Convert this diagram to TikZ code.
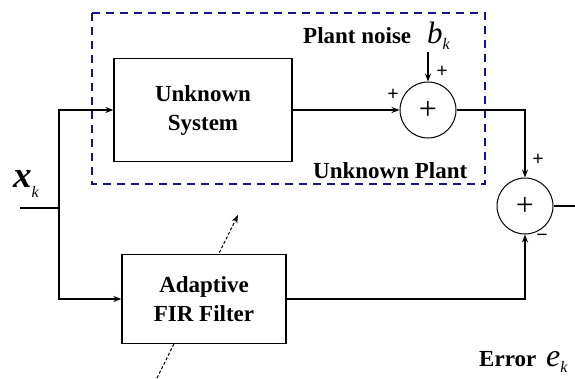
\documentclass[tikz,border=0pt]{standalone}
\usepackage{fontspec}
\setmainfont{Liberation Serif}
\usetikzlibrary{arrows.meta,positioning,backgrounds}

\definecolor{plantblue}{RGB}{20,20,140}

% italic signal name with a lowered k
\newcommand{\sigvar}[3]{{\itshape\fontsize{#2}{#2}\selectfont #1}{\mdseries\itshape\fontsize{16}{16}\selectfont\raisebox{-#3pt}{k}}}

\tikzset{
  blockbox/.style={draw, fill=white, line width=1.3pt, align=center,
    font=\bfseries\fontsize{23}{29}\selectfont},
  sumnode/.style={draw, circle, line width=1pt, minimum size=56pt, inner sep=0pt,
    font=\fontsize{32}{32}\selectfont},
  sig/.style={-{Stealth[length=8pt,width=6pt]}, line width=1.2pt},
  lbl/.style={inner sep=0pt, font=\bfseries\fontsize{23}{23}\selectfont},
  signlbl/.style={inner sep=0pt, font=\bfseries\fontsize{20}{20}\selectfont},
  plantframe/.style={draw=plantblue, line width=1.5pt, dash pattern=on 8pt off 6pt},
  adjustline/.style={-{Stealth[length=8pt,width=6pt]}, line width=1pt, densely dashed}
}

\begin{document}
\begin{tikzpicture}[x=1pt,y=-1pt]
  \useasboundingbox (0,0) rectangle (575,378);

  % unknown plant frame
  \draw[plantframe] (92,13) rectangle (485,184);

  \node[blockbox, minimum width=178pt, minimum height=103pt] (sys) at (203,110) {Unknown\\System};
  \node[blockbox, minimum width=164pt, minimum height=89pt] (fir) at (204,299) {Adaptive\\FIR Filter};
  \node[sumnode] (sum1) at (428,110) {+};
  \node[sumnode] (sum2) at (525,206) {+};

  \coordinate (xin) at (20,208);
  \coordinate (split) at (59,208);
  \coordinate (noise) at (428,52);
  \coordinate (out) at (575,206);
  \coordinate (adaptfrom) at (157,378);
  \coordinate (adaptto) at (238,215);

  % signal paths
  \draw[line width=1.2pt] (xin) -- (split);
  \draw[sig] (split) |- (sys.west);
  \draw[sig] (split) |- (fir.west);
  \draw[sig] (sys.east) -- (sum1.west);
  \draw[sig] (noise) -- (sum1.north);
  \draw[sig] (sum1.east) -| (sum2.north);
  \draw[sig] (fir.east) -| (sum2.south);
  \draw[line width=1.2pt] (sum2.east) -- (out);

  % adaptation arrow, behind the filter
  \begin{scope}[on background layer]
    \draw[adjustline] (adaptfrom) -- (adaptto);
  \end{scope}

  % labels
  \node[lbl, anchor=base west] (noiselbl) at (303,43) {Plant noise};
  \node[inner sep=0pt, anchor=base west] (bk) at (427,43) {\sigvar{b}{31}{6}};
  \node[lbl, anchor=base west] (plantlbl) at (313,178) {Unknown Plant};
  \node[lbl, anchor=base west] (errlbl) at (479,366) {Error};
  \node[inner sep=0pt, anchor=base west] (ek) at (546,366) {\sigvar{e}{32}{6}};
  \node[inner sep=0pt, anchor=base west] (xk) at (13,187) {\bfseries\sigvar{x}{37}{10}};

  % signs at the summing points
  \node[signlbl] (s1top) at (442,72) {+};
  \node[signlbl] (s1left) at (393,95) {+};
  \node[signlbl] (s2top) at (538,160) {+};
  \node[signlbl] (s2bot) at (542,238) {−};
\end{tikzpicture}
\end{document}
